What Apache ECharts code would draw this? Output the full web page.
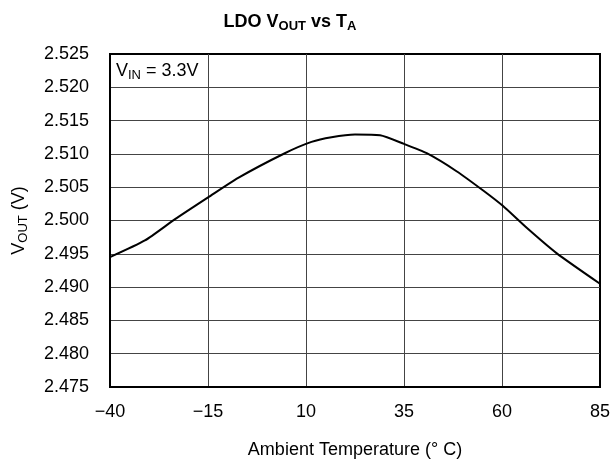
<!DOCTYPE html>
<html>
<head>
<meta charset="utf-8">
<script src="https://cdn.jsdelivr.net/npm/echarts@6/dist/echarts.min.js"></script>
<style>html,body{margin:0;padding:0;background:#fff}#c{width:615px;height:470px}</style>
</head>
<body>
<div id="c"></div>
<script>
var temps = [-40, -31.1, -23.4, -14.9, -7.3, 4.6, 11.4, 16.5, 22.5, 28.9, 35, 40.8, 48.4, 55.2, 60.2, 66.3, 73.9, 85];
var vout = [2.4945, 2.4970, 2.5002, 2.5035, 2.5064, 2.5101, 2.5118, 2.5125, 2.5129, 2.5128, 2.5115, 2.5101, 2.5074, 2.5045, 2.5022, 2.4989, 2.4951, 2.4905];
var xTickLabels = ['\u221240', '\u221215', '10', '35', '60', '85'];
var yTickLabels = ['2.475', '2.480', '2.485', '2.490', '2.495', '2.500', '2.505', '2.510', '2.515', '2.520', '2.525'];
var xMin = -40, xMax = 85, xStep = 25;
var yMin = 2.475, yMax = 2.525, yStep = 0.005;

var FONT = "'Liberation Sans', Arial, Helvetica, sans-serif";
var chart = echarts.init(document.getElementById('c'), null, {renderer: 'canvas'});
var data = temps.map(function (t, i) { return [t - xMin, vout[i]]; });
var richBase = {
  n: {fontSize: 18, fontFamily: FONT, color: '#000'},
  s: {fontSize: 13, fontFamily: FONT, color: '#000', padding: [9, 0, 0, 0]}
};
var richBold = {
  n: {fontSize: 18, fontFamily: FONT, fontWeight: 'bold', color: '#000'},
  s: {fontSize: 13, fontFamily: FONT, fontWeight: 'bold', color: '#000', padding: [9, 0, 0, 0]}
};
chart.setOption({
  animation: false,
  backgroundColor: '#fff',
  grid: {left: 110, right: 15, top: 54, bottom: 83, show: true, borderColor: '#000', borderWidth: 2, backgroundColor: 'transparent'},
  xAxis: {
    type: 'value', min: 0, max: xMax - xMin, interval: xStep,
    name: 'Ambient Temperature (\u00b0 C)', nameLocation: 'middle', nameGap: 54,
    nameTextStyle: {fontSize: 18, fontFamily: FONT, color: '#000'},
    axisLine: {show: true, lineStyle: {color: '#000', width: 2}},
    axisTick: {show: false},
    axisLabel: {fontSize: 18, fontFamily: FONT, color: '#000', margin: 16,
      formatter: function (v) { return xTickLabels[Math.round(v / xStep)]; }},
    splitLine: {show: true, showMinLine: false, showMaxLine: false, lineStyle: {color: '#444', width: 1}}
  },
  yAxis: {
    type: 'value', min: yMin, max: yMax, interval: yStep,
    name: '{n|V}{s|OUT}{n| (V)}', nameLocation: 'middle', nameRotate: 90, nameGap: 80,
    nameTextStyle: {rich: richBase},
    axisLine: {show: true, lineStyle: {color: '#000', width: 2}},
    axisTick: {show: false},
    axisLabel: {fontSize: 18, fontFamily: FONT, color: '#000', margin: 21,
      formatter: function (v) { return yTickLabels[Math.round((v - yMin) / yStep)]; }},
    splitLine: {show: true, showMinLine: false, showMaxLine: false, lineStyle: {color: '#444', width: 1}}
  },
  graphic: [
    {type: 'text', x: 290, y: 22, style: {text: '{n|LDO V}{s|OUT}{n| vs T}{s|A}', rich: richBold, align: 'center', verticalAlign: 'middle'}},
    {type: 'text', x: 116, y: 60, style: {text: '{n|V}{s|IN}{n| = 3.3V}', rich: richBase}}
  ],
  series: [{
    type: 'line', data: data, smooth: 0.2, symbol: 'none',
    lineStyle: {color: '#000', width: 2}
  }]
});
</script>
</body>
</html>
